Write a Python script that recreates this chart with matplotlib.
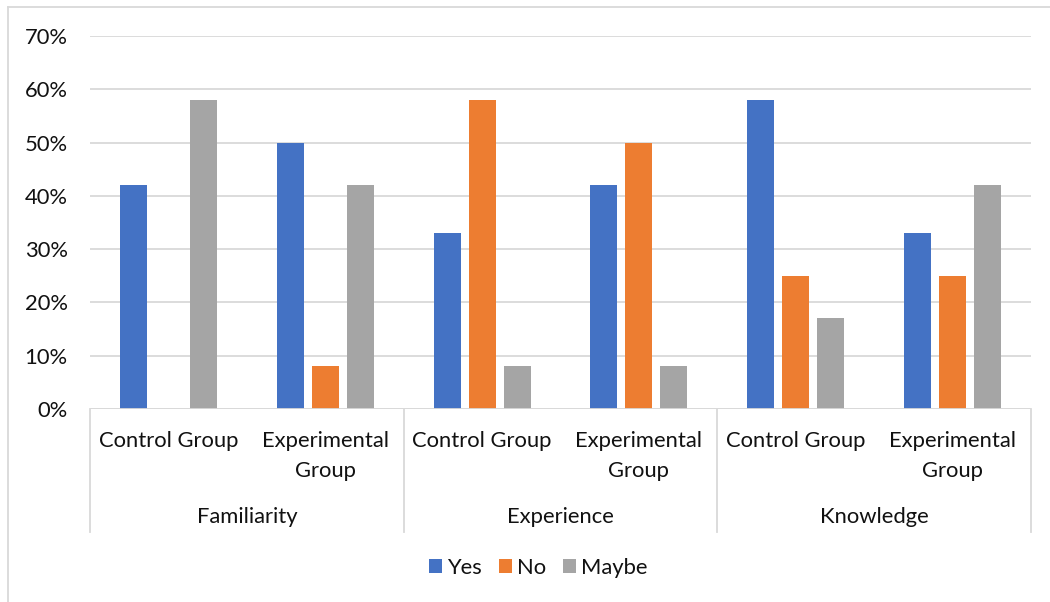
import matplotlib.pyplot as plt
from matplotlib.lines import Line2D
from matplotlib.patches import Patch
import matplotlib.transforms as mtransforms

# dados
aspectos = ["Familiarity", "Experience", "Knowledge"]
grupos = ["Control Group", "Experimental\nGroup"]
sim = [42, 50, 33, 42, 58, 33]
nao = [0, 8, 58, 50, 25, 25]
talvez = [58, 42, 8, 8, 17, 42]
series = ["Yes", "No", "Maybe"]
cores = ["#4472C4", "#ED7D31", "#A5A5A5"]
yticks = [0, 10, 20, 30, 40, 50, 60, 70]

plt.rcParams['font.family'] = ['Lato', 'DejaVu Sans']
texto = "#111111"
fs = 15.8

fig = plt.figure(figsize=(10.5, 6.02), dpi=100)
W, H = 1050, 602
ax = fig.add_axes([90 / W, (H - 409) / H, (1031 - 90) / W, (409 - 36) / H])

n = len(aspectos) * len(grupos)
xs = list(range(n))
larg = 0.172
passo = 0.223
for k, (vals, cor) in enumerate(zip([sim, nao, talvez], cores)):
    pos = [x + (k - 1) * passo for x in xs]
    ax.bar(pos, vals, width=larg, color=cor, zorder=3)

ax.set_xlim(-0.5, n - 0.5)
ax.set_ylim(0, 70)
ax.set_yticks(yticks)
ax.set_yticklabels([f"{v}%" for v in yticks], fontsize=fs, color=texto)
ax.yaxis.grid(True, color="#d9d9d9", linewidth=1.3, zorder=0)
ax.tick_params(axis='y', length=0, pad=16)
ax.tick_params(axis='x', length=0, pad=16)
for s in ax.spines.values():
    s.set_visible(False)
ax.axhline(0, color="#d9d9d9", linewidth=1.3, zorder=4)

ax.set_xticks(xs)
ax.set_xticklabels(grupos * len(aspectos), fontsize=fs, color=texto, linespacing=1.6)

# eixo de categorias em dois niveis
trans = mtransforms.blended_transform_factory(ax.transData, ax.transAxes)
fundo = -123 / 373
for i in range(len(aspectos) + 1):
    xl = i * len(grupos) - 0.5
    ax.add_line(Line2D([xl, xl], [0, fundo], transform=trans, color="#d9d9d9",
                       linewidth=1.3, clip_on=False))
for i, a in enumerate(aspectos):
    xc = i * len(grupos) + (len(grupos) - 1) / 2
    ax.text(xc, -108 / 373, a, transform=trans, ha='center', va='center',
            fontsize=fs, color=texto)

# legenda
handles = [Patch(facecolor=c, edgecolor='none') for c in cores]
fig.legend(handles, series, loc='center', bbox_to_anchor=(538 / W, (H - 568) / H),
           ncol=3, frameon=False, fontsize=fs, handlelength=0.6, handleheight=0.6,
           handletextpad=0.22, columnspacing=0.78, labelcolor=texto)

# borda do grafico
fig.add_artist(Line2D([8 / W, 8 / W], [0, (H - 7) / H], color="#d9d9d9", linewidth=1.3))
fig.add_artist(Line2D([8 / W, 1], [(H - 7) / H, (H - 7) / H], color="#d9d9d9", linewidth=1.3))

fig.savefig("out.png", dpi=100)
